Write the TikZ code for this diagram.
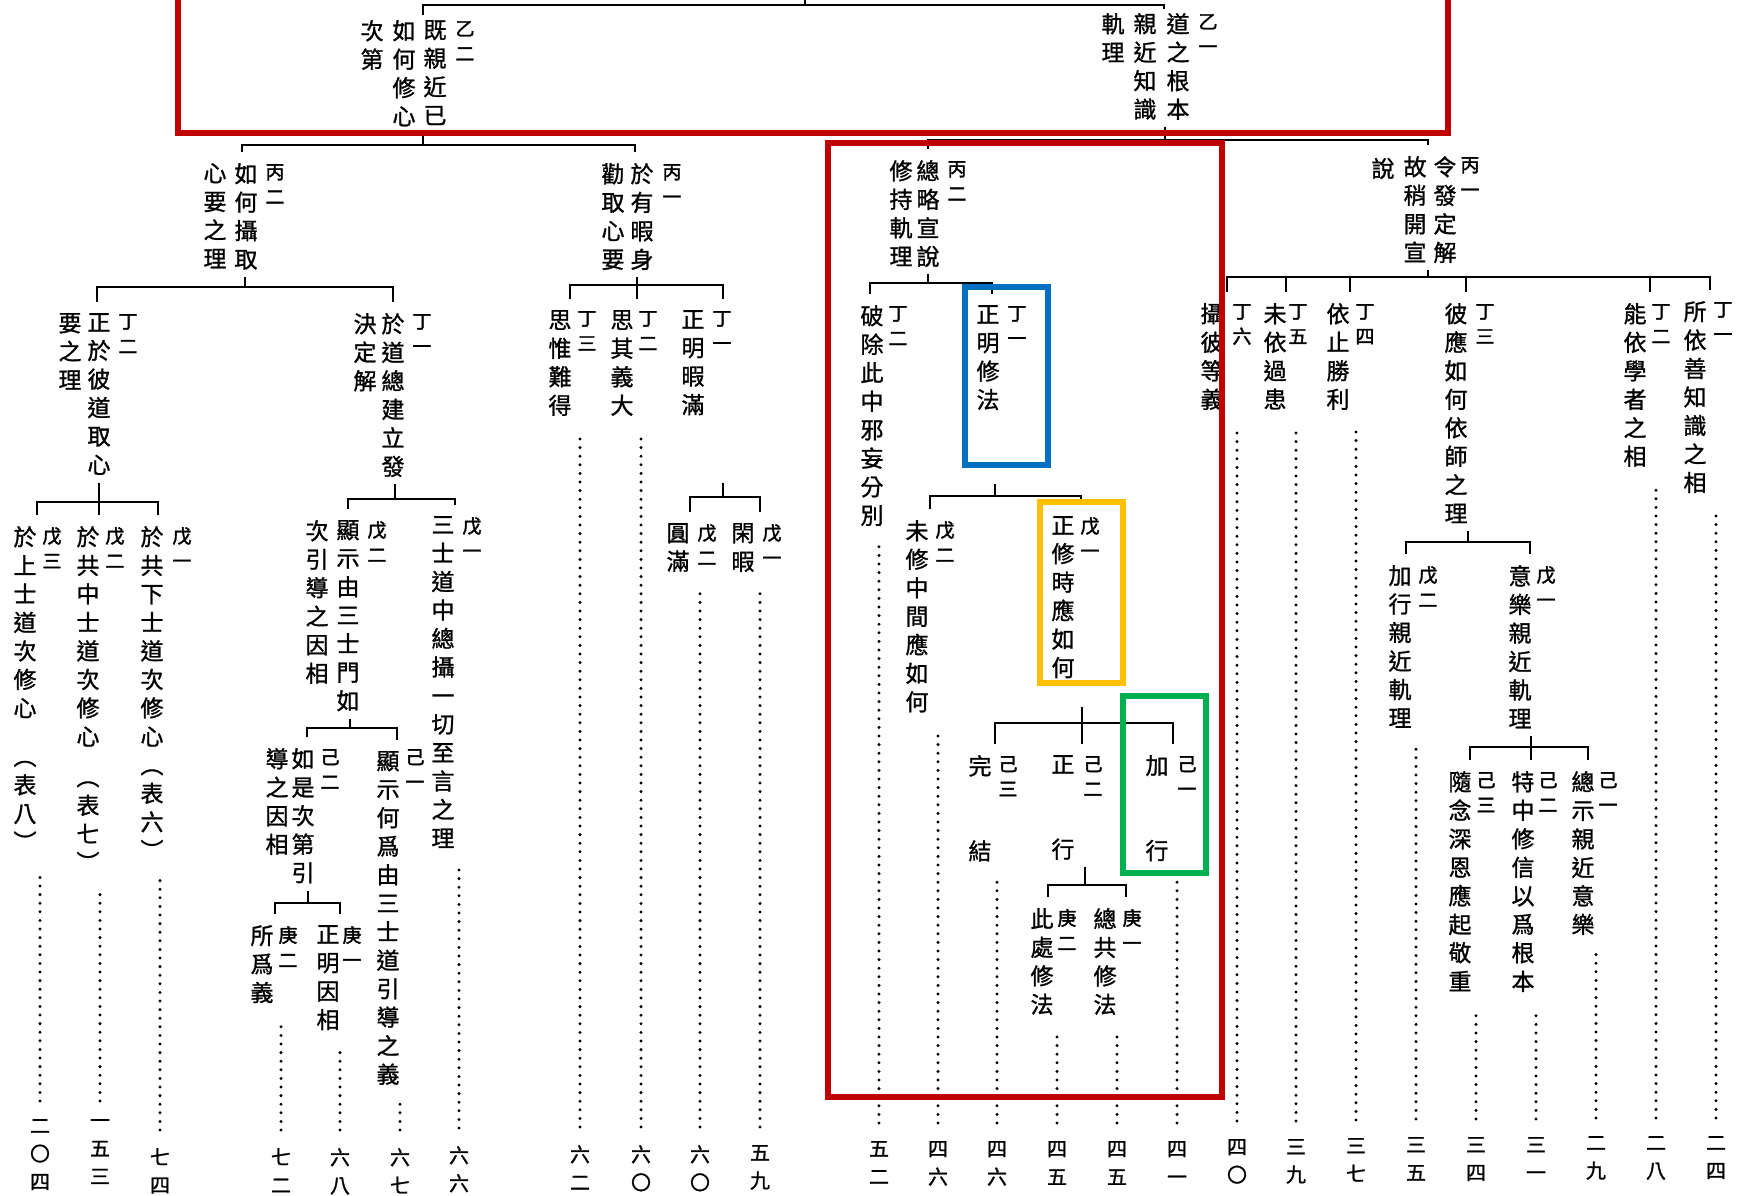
\documentclass[tikz,border=0pt]{standalone}
\usepackage{fontspec}
\newfontfamily\cjk[FakeBold=1.1]{Noto Sans CJK TC}
\newfontfamily\cjktag[FakeBold=2]{Noto Sans CJK TC}
\definecolor{boxred}{HTML}{C00000}
\definecolor{boxblue}{HTML}{0070C0}
\definecolor{boxorange}{HTML}{FFC000}
\definecolor{boxgreen}{HTML}{00B050}
\tikzset{
colm/.style={font=\cjk\fontsize{23}{28.5}\selectfont,inner sep=0pt,align=center,anchor=north,yshift=21pt,
  execute at begin node=\rule{0pt}{21pt},execute at end node=\rule[-3pt]{0pt}{3pt}},
tag/.style={font=\cjktag\fontsize{19}{25}\selectfont,inner sep=0pt,align=center,anchor=north,yshift=17pt,
  execute at begin node=\rule{0pt}{17pt}},
pnum/.style={font=\cjk\fontsize{20}{28}\selectfont,inner sep=0pt,align=center,anchor=north,yshift=18pt,
  execute at begin node=\rule{0pt}{18pt}},
branch/.style={line width=1.8pt},
stub/.style={branch,shorten >=6pt},
drop/.style={branch,shorten >=11pt},
leader/.style={line width=3.3pt,line cap=round,dash pattern=on 0pt off 8.6pt,shorten <=18pt,shorten >=18pt},
hibox/.style={line width=6.5pt}
}
\begin{document}
\begin{tikzpicture}[x=1pt,y=-1pt]
\path[use as bounding box,fill=white](0,0)rectangle(1743,1196);
% 乙
\node[tag](y2h)at(465,38){乙\\二};
\node[colm](y2)at(435,41){既\\親\\近\\已};
\node[colm](y2c2)at(404,41){如\\何\\修\\心};
\node[colm](y2c3)at(372,41){次\\第};
\node[tag](y1h)at(1208,31){乙\\一};
\node[colm](y1)at(1178,34){道\\之\\根\\本};
\node[colm](y1c2)at(1145,34){親\\近\\知\\識};
\node[colm](y1c3)at(1113,34){軌\\理};
% 丙
\node[tag](y2b2h)at(275,181){丙\\二};
\node[colm](y2b2)at(246,184){如\\何\\攝\\取};
\node[colm](y2b2c2)at(215,184){心\\要\\之\\理};
\node[tag](y2b1h)at(672,181){丙\\一};
\node[colm](y2b1)at(642,184){於\\有\\暇\\身};
\node[colm](y2b1c2)at(613,184){勸\\取\\心\\要};
\node[tag](y1b2h)at(957,178){丙\\二};
\node[colm](y1b2)at(928,181){總\\略\\宣\\說};
\node[colm](y1b2c2)at(901,181){修\\持\\軌\\理};
\node[tag](y1b1h)at(1470,174){丙\\一};
\node[colm](y1b1)at(1445,177){令\\發\\定\\解};
\node[colm](y1b1c2)at(1415,177){故\\稍\\開\\宣};
\node[colm](y1b1c3)at(1383,177){說};
% 丁
\node[tag](y2b2d2h)at(128,331){丁\\二};
\node[colm](y2b2d2)at(99,334){正\\於\\彼\\道\\取\\心};
\node[colm](y2b2d2c2)at(70,334){要\\之\\理};
\node[tag](y2b2d1h)at(422,331){丁\\一};
\node[colm](y2b2d1)at(393,334){於\\道\\總\\建\\立\\發};
\node[colm](y2b2d1c2)at(365,334){決\\定\\解};
\node[tag](y2b1d3h)at(587,328){丁\\三};
\node[colm](y2b1d3)at(560,331){思\\惟\\難\\得};
\node[tag](y2b1d2h)at(648,328){丁\\二};
\node[colm](y2b1d2)at(622,331){思\\其\\義\\大};
\node[tag](y2b1d1h)at(722,328){丁\\一};
\node[colm](y2b1d1)at(693,331){正\\明\\暇\\滿};
\node[tag](y1b2d2h)at(898,323){丁\\二};
\node[colm](y1b2d2)at(872,326){破\\除\\此\\中\\邪\\妄\\分\\別};
\node[tag](y1b2d1h)at(1017,323){丁\\一};
\node[colm](y1b2d1)at(988,326){正\\明\\修\\法};
\node[tag](y1b1d6h)at(1242,321){丁\\六};
\node[colm](y1b1d6)at(1212,324){攝\\彼\\等\\義};
\node[tag](y1b1d5h)at(1298,321){丁\\五};
\node[colm](y1b1d5)at(1275,324){未\\依\\過\\患};
\node[tag](y1b1d4h)at(1365,321){丁\\四};
\node[colm](y1b1d4)at(1338,324){依\\止\\勝\\利};
\node[tag](y1b1d3h)at(1485,321){丁\\三};
\node[colm](y1b1d3)at(1456,324){彼\\應\\如\\何\\依\\師\\之\\理};
\node[tag](y1b1d2h)at(1661,321){丁\\二};
\node[colm](y1b1d2)at(1635,324){能\\依\\學\\者\\之\\相};
\node[tag](y1b1d1h)at(1723,319){丁\\一};
\node[colm](y1b1d1)at(1695,322){所\\依\\善\\知\\識\\之\\相};
% 戊
\node[tag](y2b2d2w3h)at(52,544){戊\\三};
\node[colm](y2b2d2w3)at(25,547){於\\上\\士\\道\\次\\修\\心\\[20pt]︵\\表\\八\\︶};
\node[tag](y2b2d2w2h)at(115,544){戊\\二};
\node[colm](y2b2d2w2)at(88,547){於\\共\\中\\士\\道\\次\\修\\心\\[12pt]︵\\表\\七\\︶};
\node[tag](y2b2d2w1h)at(182,544){戊\\一};
\node[colm](y2b2d2w1)at(152,547){於\\共\\下\\士\\道\\次\\修\\心\\︵\\表\\六\\︶};
\node[tag](y2b2d1w2h)at(377,538){戊\\二};
\node[colm](y2b2d1w2)at(348,541){顯\\示\\由\\三\\士\\門\\如};
\node[colm](y2b2d1w2c2)at(317,541){次\\引\\導\\之\\因\\相};
\node[tag](y2b2d1w1h)at(472,534){戊\\一};
\node[colm](y2b2d1w1)at(443,537){三\\士\\道\\中\\總\\攝\\一\\切\\至\\言\\之\\理};
\node[tag](y2b1d1w2h)at(707,541){戊\\二};
\node[colm](y2b1d1w2)at(678,544){圓\\滿};
\node[tag](y2b1d1w1h)at(772,541){戊\\一};
\node[colm](y2b1d1w1)at(743,544){閑\\暇};
\node[tag](y1b2d1w2h)at(945,538){戊\\二};
\node[colm](y1b2d1w2)at(917,541){未\\修\\中\\間\\應\\如\\何};
\node[tag](y1b2d1w1h)at(1090,534){戊\\一};
\node[colm](y1b2d1w1)at(1063,537){正\\修\\時\\應\\如\\何};
\node[tag](y1b1d3w2h)at(1428,583){戊\\二};
\node[colm](y1b1d3w2)at(1400,586){加\\行\\親\\近\\軌\\理};
\node[tag](y1b1d3w1h)at(1546,583){戊\\一};
\node[colm](y1b1d3w1)at(1520,586){意\\樂\\親\\近\\軌\\理};
% 己
\node[tag](y2b2d1w2j2h)at(330,766){己\\二};
\node[colm](y2b2d1w2j2)at(303,769){如\\是\\次\\第\\引};
\node[colm](y2b2d1w2j2c2)at(277,769){導\\之\\因\\相};
\node[tag](y2b2d1w2j1h)at(415,766){己\\一};
\node[colm](y2b2d1w2j1)at(388,772){顯\\示\\何\\爲\\由\\三\\士\\道\\引\\導\\之\\義};
\node[tag](y1b2d1w1j3h)at(1008,773){己\\三};
\node[colm](y1b2d1w1j3)at(980,776){完\\[56.5pt]結};
\node[tag](y1b2d1w1j2h)at(1093,773){己\\二};
\node[colm](y1b2d1w1j2)at(1063,776){正\\[56.5pt]行};
\node[tag](y1b2d1w1j1h)at(1187,773){己\\一};
\node[colm](y1b2d1w1j1)at(1157,776){加\\[56.5pt]行};
\node[tag](y1b1d3w1j3h)at(1486,789){己\\三};
\node[colm](y1b1d3w1j3)at(1460,792){隨\\念\\深\\恩\\應\\起\\敬\\重};
\node[tag](y1b1d3w1j2h)at(1548,789){己\\二};
\node[colm](y1b1d3w1j2)at(1523,792){特\\中\\修\\信\\以\\爲\\根\\本};
\node[tag](y1b1d3w1j1h)at(1608,789){己\\一};
\node[colm](y1b1d3w1j1)at(1583,792){總\\示\\親\\近\\意\\樂};
% 庚
\node[tag](y2b2d1w2j2g2h)at(288,943){庚\\二};
\node[colm](y2b2d1w2j2g2)at(262,946){所\\爲\\義};
\node[tag](y2b2d1w2j2g1h)at(352,943){庚\\一};
\node[colm](y2b2d1w2j2g1)at(328,946){正\\明\\因\\相};
\node[tag](y1b2d1w1j2g2h)at(1067,926){庚\\二};
\node[colm](y1b2d1w1j2g2)at(1042,929){此\\處\\修\\法};
\node[tag](y1b2d1w1j2g1h)at(1132,926){庚\\一};
\node[colm](y1b2d1w1j2g1)at(1105,929){總\\共\\修\\法};
% page numbers
\node[pnum](y2b2d2w3p)at(40,1137){二\\〇\\四};
\node[pnum](y2b2d2w2p)at(100,1137){一\\五\\三};
\node[pnum](y2b2d2w1p)at(160,1166){七\\四};
\node[pnum](y2b2d1w2j2g2p)at(281,1166){七\\二};
\node[pnum](y2b2d1w2j2g1p)at(340,1166){六\\八};
\node[pnum](y2b2d1w2j1p)at(400,1166){六\\七};
\node[pnum](y2b2d1w1p)at(459,1164){六\\六};
\node[pnum](y2b1d3p)at(580,1163){六\\二};
\node[pnum](y2b1d2p)at(641,1163){六\\〇};
\node[pnum](y2b1d1w2p)at(700,1163){六\\〇};
\node[pnum](y2b1d1w1p)at(760,1163){五\\九};
\node[pnum](y1b2d2p)at(879,1159){五\\二};
\node[pnum](y1b2d1w2p)at(938,1159){四\\六};
\node[pnum](y1b2d1w1j3p)at(997,1159){四\\六};
\node[pnum](y1b2d1w1j2g2p)at(1057,1159){四\\五};
\node[pnum](y1b2d1w1j2g1p)at(1117,1159){四\\五};
\node[pnum](y1b2d1w1j1p)at(1177,1159){四\\一};
\node[pnum](y1b1d6p)at(1237,1157){四\\〇};
\node[pnum](y1b1d5p)at(1296,1157){三\\九};
\node[pnum](y1b1d4p)at(1356,1156){三\\七};
\node[pnum](y1b1d3w2p)at(1416,1155){三\\五};
\node[pnum](y1b1d3w1j3p)at(1476,1155){三\\四};
\node[pnum](y1b1d3w1j2p)at(1536,1155){三\\一};
\node[pnum](y1b1d3w1j1p)at(1596,1154){二\\九};
\node[pnum](y1b1d2p)at(1656,1154){二\\八};
\node[pnum](y1b1d1p)at(1716,1154){二\\四};
% junctions
\coordinate(root)at(805,-4);\coordinate(topx)at(805,5);
\coordinate(y2x)at(423,145);\coordinate(y1x)at(1165,140);
\coordinate(y2b2x)at(245,287);\coordinate(y2b1x)at(637,285);
\coordinate(y1b2x)at(928,283);\coordinate(y1b1x)at(1428,277);
\coordinate(y2b2d2x)at(99,502);\coordinate(y2b2d1x)at(395,499);
\coordinate(y2b1d1x)at(723,497);\coordinate(y1b2d1x)at(995,496);
\coordinate(y1b1d3x)at(1468,542);\coordinate(y2b2d1w2x)at(350,728);
\coordinate(y2b2d1w2j2x)at(308,903);\coordinate(y1b2d1w1x)at(1082,723);
\coordinate(y1b2d1w1j2x)at(1085,885);\coordinate(y1b1d3w1x)at(1531,747);
% tree lines
\draw[branch](root)--(topx);
\draw[branch,shorten >=5pt](topx)-|([xshift=-12pt]y2.north);\draw[branch,shorten >=4pt](topx)-|([xshift=-14pt]y1.north);
\draw[stub](y2x)--(y2x|-y2.south);\draw[drop](y2x)-|([xshift=-4pt]y2b2.north);\draw[drop](y2x)-|([xshift=-7pt]y2b1.north);
\draw[stub](y1x)--(y1x|-y1.south);\draw[drop](y1x)-|(y1b2.north);\draw[drop](y1x)-|([xshift=-17pt]y1b1.north);
\draw[stub](y2b2x)--(y2b2x|-y2b2.south);\draw[drop](y2b2x)-|([xshift=-2pt]y2b2d2.north);\draw[drop](y2b2x)-|(y2b2d1.north);
\draw[stub](y2b1x)--(y2b1x|-y2b1.south);\draw[drop](y2b1x)-|([xshift=10pt]y2b1d3.north);\draw[drop](y2b1x)-|([xshift=15pt]y2b1d2.north);\draw[drop](y2b1x)-|([xshift=30pt]y2b1d1.north);
\draw[stub](y1b2x)--(y1b2x|-y1b2.south);\draw[drop](y1b2x)-|([xshift=-2pt]y1b2d2.north);\draw[drop](y1b2x)-|([xshift=4pt]y1b2d1.north);
\draw[stub](y1b1x)--(y1b1x|-y1b1.south);\draw[drop](y1b1x)-|([xshift=15pt]y1b1d6.north);\draw[drop](y1b1x)-|([xshift=11pt]y1b1d5.north);\draw[drop](y1b1x)-|([xshift=12pt]y1b1d4.north);
\draw[drop](y1b1x)-|([xshift=10pt]y1b1d3.north);\draw[drop](y1b1x)-|([xshift=15pt]y1b1d2.north);\draw[drop](y1b1x)-|([xshift=15pt]y1b1d1.north);
\draw[stub](y2b2d2x)--(y2b2d2x|-y2b2d2.south);\draw[drop](y2b2d2x)-|([xshift=12pt]y2b2d2w3.north);\draw[drop](y2b2d2x)-|([xshift=11pt]y2b2d2w2.north);\draw[drop](y2b2d2x)-|([xshift=6pt]y2b2d2w1.north);
\draw[stub](y2b2d1x)--(y2b2d1x|-y2b2d1.south);\draw[drop](y2b2d1x)-|(y2b2d1w2.north);\draw[drop](y2b2d1x)-|([xshift=12pt]y2b2d1w1.north);
\draw[branch,shorten >=66pt](y2b1d1x)--(y2b1d1x|-y2b1d1.south);\draw[drop](y2b1d1x)-|([xshift=12pt]y2b1d1w2.north);\draw[drop](y2b1d1x)-|([xshift=17pt]y2b1d1w1.north);
\draw[branch,shorten >=72pt](y1b2d1x)--(y1b2d1x|-y1b2d1.south);\draw[drop](y1b2d1x)-|([xshift=13pt]y1b2d1w2.north);\draw[drop](y1b2d1x)-|([xshift=18pt]y1b2d1w1.north);
\draw[stub](y1b1d3x)--(y1b1d3x|-y1b1d3.south);\draw[drop](y1b1d3x)-|([xshift=6pt]y1b1d3w2.north);\draw[drop](y1b1d3x)-|([xshift=10pt]y1b1d3w1.north);
\draw[stub](y2b2d1w2x)--(y2b2d1w2x|-y2b2d1w2.south);\draw[drop](y2b2d1w2x)-|([xshift=4pt]y2b2d1w2j2.north);\draw[drop](y2b2d1w2x)-|([xshift=9pt]y2b2d1w2j1.north);
\draw[stub](y2b2d1w2j2x)--(y2b2d1w2j2x|-y2b2d1w2j2.south);\draw[drop](y2b2d1w2j2x)-|([xshift=13pt]y2b2d1w2j2g2.north);\draw[drop](y2b2d1w2j2x)-|([xshift=12pt]y2b2d1w2j2g1.north);
\draw[branch,shorten >=27pt](y1b2d1w1x)--(y1b2d1w1x|-y1b2d1w1.south);\draw[drop](y1b2d1w1x)-|([xshift=15pt]y1b2d1w1j3.north);\draw[drop](y1b2d1w1x)-|([xshift=19pt]y1b2d1w1j2.north);\draw[drop](y1b2d1w1x)-|([xshift=16pt]y1b2d1w1j1.north);
\draw[stub](y1b2d1w1j2x)--(y1b2d1w1j2x|-y1b2d1w1j2.south);\draw[drop](y1b2d1w1j2x)-|([xshift=6pt]y1b2d1w1j2g2.north);\draw[drop](y1b2d1w1j2x)-|([xshift=21pt]y1b2d1w1j2g1.north);
\draw[stub](y1b1d3w1x)--(y1b1d3w1x|-y1b1d3w1.south);\draw[drop](y1b1d3w1x)-|([xshift=10pt]y1b1d3w1j3.north);\draw[drop](y1b1d3w1x)-|([xshift=8pt]y1b1d3w1j2.north);\draw[drop](y1b1d3w1x)-|([xshift=5pt]y1b1d3w1j1.north);
% dotted leaders down to the page numbers
\draw[leader](y2b2d2w3p.north)--(y2b2d2w3p.north|-y2b2d2w3.south);\draw[leader](y2b2d2w2p.north)--(y2b2d2w2p.north|-y2b2d2w2.south);
\draw[leader](y2b2d2w1p.north)--(y2b2d2w1p.north|-y2b2d2w1.south);\draw[leader](y2b2d1w2j2g2p.north)--(y2b2d1w2j2g2p.north|-y2b2d1w2j2g2.south);
\draw[leader](y2b2d1w2j2g1p.north)--(y2b2d1w2j2g1p.north|-y2b2d1w2j2g1.south);\draw[leader](y2b2d1w2j1p.north)--(y2b2d1w2j1p.north|-y2b2d1w2j1.south);
\draw[leader](y2b2d1w1p.north)--(y2b2d1w1p.north|-y2b2d1w1.south);\draw[leader](y2b1d3p.north)--(y2b1d3p.north|-y2b1d3.south);
\draw[leader](y2b1d2p.north)--(y2b1d2p.north|-y2b1d2.south);\draw[leader](y2b1d1w2p.north)--(y2b1d1w2p.north|-y2b1d1w2.south);
\draw[leader](y2b1d1w1p.north)--(y2b1d1w1p.north|-y2b1d1w1.south);\draw[leader](y1b2d2p.north)--(y1b2d2p.north|-y1b2d2.south);
\draw[leader](y1b2d1w2p.north)--(y1b2d1w2p.north|-y1b2d1w2.south);\draw[leader](y1b2d1w1j3p.north)--(y1b2d1w1j3p.north|-y1b2d1w1j3.south);
\draw[leader](y1b2d1w1j2g2p.north)--(y1b2d1w1j2g2p.north|-y1b2d1w1j2g2.south);\draw[leader](y1b2d1w1j2g1p.north)--(y1b2d1w1j2g1p.north|-y1b2d1w1j2g1.south);
\draw[leader](y1b2d1w1j1p.north)--(y1b2d1w1j1p.north|-y1b2d1w1j1.south);\draw[leader](y1b1d6p.north)--(y1b1d6p.north|-y1b1d6.south);
\draw[leader](y1b1d5p.north)--(y1b1d5p.north|-y1b1d5.south);\draw[leader](y1b1d4p.north)--(y1b1d4p.north|-y1b1d4.south);
\draw[leader](y1b1d3w2p.north)--(y1b1d3w2p.north|-y1b1d3w2.south);\draw[leader](y1b1d3w1j3p.north)--(y1b1d3w1j3p.north|-y1b1d3w1j3.south);
\draw[leader](y1b1d3w1j2p.north)--(y1b1d3w1j2p.north|-y1b1d3w1j2.south);\draw[leader](y1b1d3w1j1p.north)--(y1b1d3w1j1p.north|-y1b1d3w1j1.south);
\draw[leader](y1b1d2p.north)--(y1b1d2p.north|-y1b1d2.south);\draw[leader](y1b1d1p.north)--(y1b1d1p.north|-y1b1d1.south);
% highlight frames
\draw[hibox,boxred](178,-12)rectangle(1448,133);
\draw[hibox,boxred](828,143)rectangle(1222,1097);
\draw[hibox,boxblue](965,287)rectangle(1048,465);
\draw[hibox,boxorange](1040,502)rectangle(1123,683);
\draw[hibox,boxgreen](1123,696)rectangle(1206,873);
\end{tikzpicture}
\end{document}
